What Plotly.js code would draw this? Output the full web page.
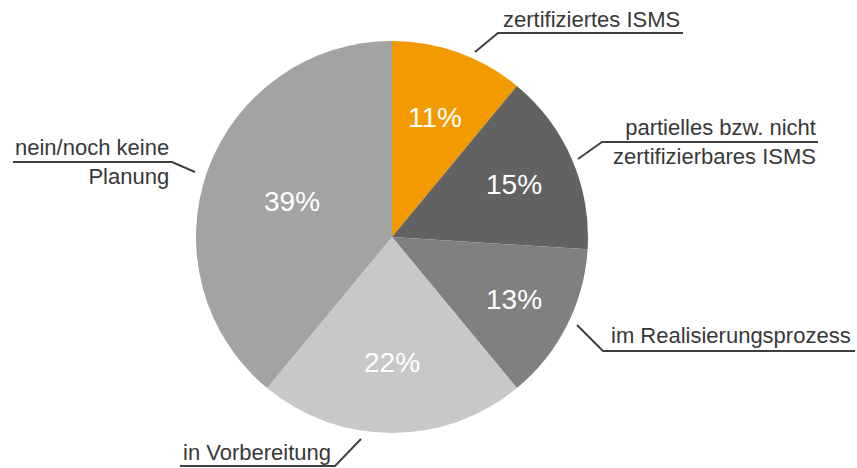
<!DOCTYPE html>
<html>
<head>
<meta charset="utf-8">
<script src="https://cdn.plot.ly/plotly-3.0.1.min.js"></script>
<style>html,body{margin:0;padding:0;background:#fff;}#chart{width:857px;height:468px;}</style>
</head>
<body>
<div id="chart"></div>
<script>
var categories = ["zertifiziertes ISMS", "partielles bzw. nicht<br>zertifizierbares ISMS", "im Realisierungsprozess", "in Vorbereitung", "nein/noch keine<br>Planung"];
var values = [11, 15, 13, 22, 39];
var colors = ["#F29A00", "#626262", "#808080", "#C8C8C8", "#A3A3A3"];

var W = 857, H = 468;
function px(x) { return x / W; }
function py(y) { return 1 - y / H; }

var lineColor = "#404040";
var textColor = "#383838";
var fontFam = "Liberation Sans, Arial, sans-serif";

// pie geometry (pixels)
var cx = 392, cy = 237, r = 196;
// radial position of the percent labels, as a fraction of the radius (layout only)
var pctRadius = [0.65, 0.68, 0.70, 0.64, 0.54];

// outside label placement (layout only)
var labelLayout = [
  {tx: 591, ty: 20, anchor: "center", pts: [[475, 52], [498, 33], [683, 33]]},
  {tx: 818, ty: 142, anchor: "right", pts: [[578, 159], [602, 142], [818, 142]]},
  {tx: 731, ty: 335, anchor: "center", pts: [[577, 325], [603, 351], [855, 351]]},
  {tx: 257, ty: 452, anchor: "center", pts: [[361, 439], [335, 466], [180, 466]]},
  {tx: 171, ty: 162, anchor: "right", pts: [[195, 172], [172, 162], [13, 162]]}
];

var shapes = [];
var annotations = [];
labelLayout.forEach(function (L, i) {
  var p = L.pts;
  var path = "M " + px(p[0][0]) + " " + py(p[0][1]);
  for (var k = 1; k < p.length; k++) path += " L " + px(p[k][0]) + " " + py(p[k][1]);
  shapes.push({type: "path", xref: "paper", yref: "paper", path: path, line: {color: lineColor, width: 2}});
  annotations.push({
    xref: "paper", yref: "paper", x: px(L.tx), y: py(L.ty),
    xanchor: L.anchor, yanchor: "middle", align: L.anchor === "right" ? "right" : "center",
    text: categories[i], showarrow: false,
    font: {family: fontFam, size: 22, color: textColor}
  });
});

// percent labels at each slice's mid-angle (clockwise from 12 o'clock)
var total = values.reduce(function (a, b) { return a + b; }, 0);
var cum = 0;
values.forEach(function (v, i) {
  var mid = (cum + v / 2) / total * 2 * Math.PI;
  cum += v;
  var d = pctRadius[i] * r;
  var x = cx + Math.sin(mid) * d;
  var y = cy - Math.cos(mid) * d;
  annotations.push({
    xref: "paper", yref: "paper", x: px(x), y: py(y),
    xanchor: "center", yanchor: "middle", showarrow: false,
    text: Math.round(v / total * 100) + "%",
    font: {family: fontFam, size: 28, color: "#ffffff"}
  });
});

var data = [{
  type: "pie",
  labels: categories,
  values: values,
  sort: false,
  direction: "clockwise",
  rotation: 0,
  textinfo: "none",
  marker: {colors: colors, line: {width: 0}},
  hoverinfo: "none",
  showlegend: false,
  domain: {x: [px(cx - r), px(cx + r)], y: [py(cy + r), py(cy - r)]}
}];

var layout = {
  width: W, height: H,
  margin: {l: 0, r: 0, t: 0, b: 0},
  paper_bgcolor: "#ffffff",
  showlegend: false,
  shapes: shapes,
  annotations: annotations
};

Plotly.newPlot("chart", data, layout, {staticPlot: true, displayModeBar: false});
</script>
</body>
</html>
